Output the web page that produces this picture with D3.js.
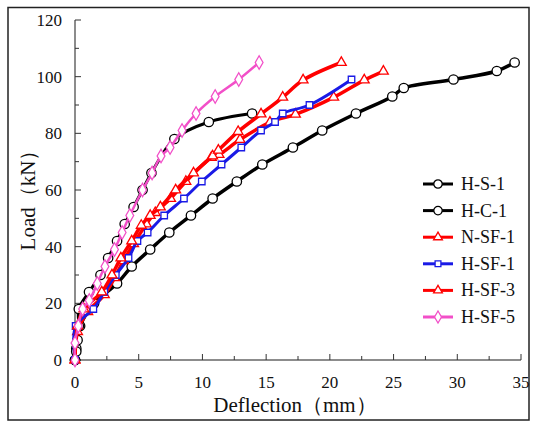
<!DOCTYPE html>
<html><head><meta charset="utf-8">
<script src="https://cdn.jsdelivr.net/npm/d3@7"></script>
<style>body{margin:0;background:#fff}svg{display:block}svg text{font-family:"Liberation Serif",Tinos,"Times New Roman",Times,"DejaVu Serif",serif}</style>
</head><body>
<svg id="c" width="533" height="422"></svg>
<script>
const xTicks = [0,5,10,15,20,25,30,35];
const yTicks = [0,20,40,60,80,100,120];
const seriesNames = ["H-S-1","H-C-1","N-SF-1","H-SF-1","H-SF-3","H-SF-5"];
const hS1 = [[0,0],[0.1,3],[0.2,7],[0.3,12],[0.3,18],[1.1,24],[2.0,30],[2.6,36],[3.3,42],[3.9,48],[4.6,54],[5.3,60],[6.0,66],[7.8,78],[10.5,84],[13.9,87]];
const hC1 = [[0,0],[0.1,4],[0.4,12],[1.5,20],[3.3,27],[4.45,33],[5.9,39],[7.4,45],[9.1,51],[10.8,57],[12.7,63],[14.7,69],[17.1,75],[19.4,81],[22.05,87],[24.9,93],[25.8,96],[29.7,99],[33.1,102],[34.5,105]];
const nSF1 = [[0,0],[0.2,12],[0.7,18],[2.1,24],[2.9,30],[3.6,36],[4.45,42],[5.2,47.5],[5.9,51],[6.7,54],[7.9,60],[9.3,66],[10.8,72],[11.25,74],[12.8,80.6],[14.6,86.8],[16.3,92.7],[17.9,98.8],[20.9,105]];
const hSF1 = [[0,0],[0.05,12],[1.44,18],[2.3,24],[3.2,30],[4.2,36],[4.9,42],[5.7,45],[7.0,51],[8.55,57],[9.95,63],[11.5,69],[13.05,75],[14.6,81],[15.7,84],[16.3,87],[18.4,90],[21.7,99]];
const hSF3 = [[0,0],[0.2,10],[1.0,17],[2.3,23],[3.1,29],[3.8,35],[4.6,41],[5.6,48],[6.3,52],[7.5,57],[8.7,63],[10.7,71.5],[11.3,72.5],[12.95,77.8],[15.3,83.9],[17.3,86.7],[20.3,92.7],[22.7,98.8],[24.2,101.9]];
const hSF5 = [[0,0],[0,6],[0.26,12],[0.6,18],[1.12,21],[1.75,27],[2.35,33],[3.1,39],[3.7,45],[4.3,51],[5.3,60],[6.05,66],[6.75,72],[7.46,75],[8.4,81],[9.5,87],[11.0,93],[12.85,99],[14.45,105]];

const svg = d3.select("#c");
const x = d3.scaleLinear().domain([0,35]).range([75,521]);
const y = d3.scaleLinear().domain([0,120]).range([360,20]);

svg.append("rect").attr("x",8).attr("y",7.5).attr("width",521).attr("height",412.5)
  .attr("fill","none").attr("stroke","#222").attr("stroke-width",1.5);

const axisCol = "#666";
const gx = svg.append("g").attr("transform","translate(0,360)");
gx.append("line").attr("x1",x(0)).attr("x2",x(35)).attr("stroke",axisCol).attr("stroke-width",1.5);
gx.selectAll("line.mj").data(xTicks).join("line").attr("class","mj")
  .attr("x1",d=>x(d)).attr("x2",d=>x(d)).attr("y1",0).attr("y2",-6).attr("stroke","#333").attr("stroke-width",1);
gx.selectAll("line.mn").data(xTicks.slice(0,-1).map(d=>d+2.5)).join("line").attr("class","mn")
  .attr("x1",d=>x(d)).attr("x2",d=>x(d)).attr("y1",0).attr("y2",-4).attr("stroke","#333").attr("stroke-width",1);
gx.selectAll("text").data(xTicks).join("text").attr("x",d=>x(d)).attr("y",28)
  .attr("text-anchor","middle").attr("font-size",17).attr("fill","#111").text(d=>d);
const gy = svg.append("g");
gy.append("line").attr("x1",x(0)).attr("x2",x(0)).attr("y1",y(0)).attr("y2",y(120)).attr("stroke",axisCol).attr("stroke-width",1.5);
gy.selectAll("line.mj").data(yTicks).join("line").attr("class","mj")
  .attr("x1",x(0)).attr("x2",x(0)+6).attr("y1",d=>y(d)).attr("y2",d=>y(d)).attr("stroke","#333").attr("stroke-width",1);
gy.selectAll("line.mn").data(yTicks.slice(0,-1).map(d=>d+10)).join("line").attr("class","mn")
  .attr("x1",x(0)).attr("x2",x(0)+4).attr("y1",d=>y(d)).attr("y2",d=>y(d)).attr("stroke","#333").attr("stroke-width",1);
gy.selectAll("text").data(yTicks).join("text").attr("x",62).attr("y",d=>y(d)+6)
  .attr("text-anchor","end").attr("font-size",17).attr("fill","#111").text(d=>d);

svg.append("text").attr("x",295).attr("y",412).attr("text-anchor","middle").attr("font-size",21).attr("fill","#111").text("Deflection（mm）");
svg.append("text").attr("transform","translate(35,195) rotate(-90)").attr("text-anchor","middle").attr("font-size",21).attr("fill","#111").text("Load（kN）");

const series = [
  {name:seriesNames[0], data:hS1, color:"#000", marker:"circle", w:3},
  {name:seriesNames[1], data:hC1, color:"#000", marker:"circle", w:3.5},
  {name:seriesNames[2], data:nSF1, color:"#ff0000", marker:"triangle", w:3.5},
  {name:seriesNames[3], data:hSF1, color:"#1a1ae6", marker:"square", w:3},
  {name:seriesNames[4], data:hSF3, color:"#ff0000", marker:"triangle", w:3.5},
  {name:seriesNames[5], data:hSF5, color:"#f24fc8", marker:"diamond", w:2.5}
];
const symType = {circle:d3.symbolCircle, triangle:d3.symbolTriangle, square:d3.symbolSquare, diamond:d3.symbolDiamond};
const symSize = {circle:70, triangle:42, square:42, diamond:52};
const line = d3.line().x(d=>x(d[0])).y(d=>y(d[1])).curve(d3.curveCatmullRom.alpha(0.5));

const drawOrder = [1,0,4,3,2,5];
drawOrder.forEach(i=>{
  const s = series[i];
  const g = svg.append("g");
  g.append("path").attr("d",line(s.data)).attr("fill","none").attr("stroke",s.color).attr("stroke-width",s.w).attr("stroke-linejoin","round");
  g.selectAll("path.m").data(s.data).join("path").attr("class","m")
    .attr("transform",d=>`translate(${x(d[0])},${y(d[1])})`)
    .attr("d",d3.symbol().type(symType[s.marker]).size(symSize[s.marker]))
    .attr("fill","#fff").attr("stroke",s.color).attr("stroke-width",1.3);
});

const lg = svg.append("g");
series.forEach((s,i)=>{
  const yy = 184 + i*26.6;
  lg.append("line").attr("x1",423).attr("x2",453).attr("y1",yy).attr("y2",yy).attr("stroke",s.color).attr("stroke-width",3);
  lg.append("path").attr("transform",`translate(438,${yy})`)
    .attr("d",d3.symbol().type(symType[s.marker]).size(symSize[s.marker]*0.8))
    .attr("fill","#fff").attr("stroke",s.color).attr("stroke-width",1.3);
  lg.append("text").attr("x",461).attr("y",yy+6).attr("font-size",18).attr("fill","#111").text(s.name);
});
</script>
</body></html>
